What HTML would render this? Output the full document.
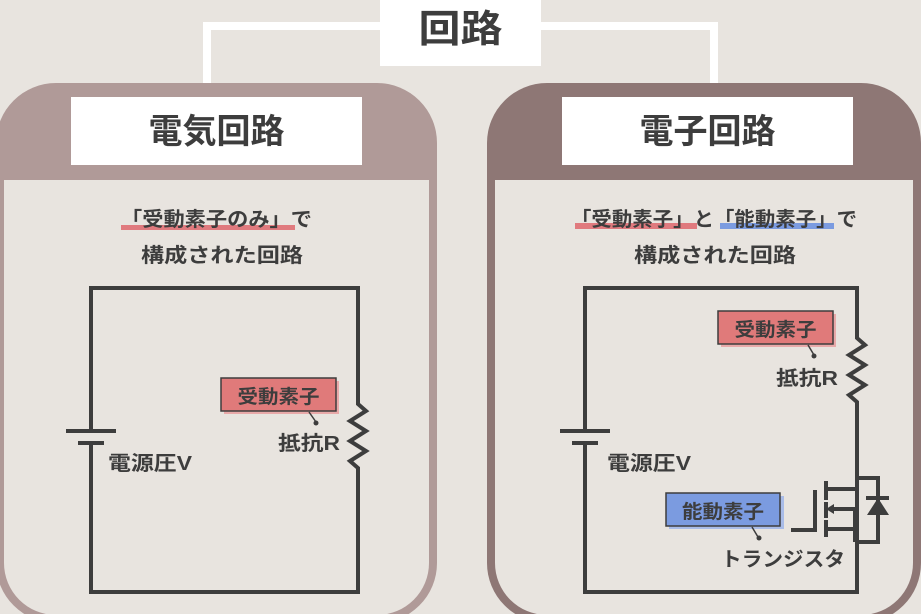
<!DOCTYPE html>
<html><head><meta charset="utf-8"><style>
html,body{margin:0;padding:0;background:#e8e4df;}
svg{display:block}
text{font-family:"Liberation Sans","Noto Sans CJK JP",sans-serif;font-weight:bold;fill:#3d3d3d}
</style></head><body>
<svg width="921" height="614" viewBox="0 0 921 614" xmlns="http://www.w3.org/2000/svg">
<rect width="921" height="614" fill="#e8e4df"/>
<!-- connectors -->
<path d="M207 84 V26 H400 M714 84 V26 H520" stroke="#fff" stroke-width="8" fill="none"/>
<rect x="380" y="0" width="161" height="66" fill="#fff"/>
<text x="460.5" y="42" font-size="38" text-anchor="middle" textLength="84" lengthAdjust="spacingAndGlyphs">回路</text>
<!-- left panel -->
<rect x="-4" y="83" width="441" height="540" rx="60" fill="#b09a98"/>
<rect x="4" y="180" width="425" height="435" rx="52" fill="#e8e4df"/>
<rect x="4" y="180" width="425" height="60" fill="#e8e4df"/>
<rect x="71" y="97" width="291" height="68" fill="#fff"/>
<text x="216.5" y="143" font-size="34" text-anchor="middle" textLength="136" lengthAdjust="spacingAndGlyphs">電気回路</text>
<!-- right panel -->
<rect x="487" y="83" width="434" height="540" rx="60" fill="#8e7775"/>
<rect x="495" y="180" width="418" height="435" rx="52" fill="#e8e4df"/>
<rect x="495" y="180" width="418" height="60" fill="#e8e4df"/>
<rect x="562" y="97" width="291" height="68" fill="#fff"/>
<text x="707.5" y="143" font-size="34" text-anchor="middle" textLength="136" lengthAdjust="spacingAndGlyphs">電子回路</text>

<!-- left subtitle -->
<rect x="121" y="225" width="174" height="5" fill="#e07a7e"/>
<text x="121" y="226" font-size="20" textLength="191" lengthAdjust="spacingAndGlyphs">「受動素子のみ」で</text>
<text x="141" y="262" font-size="20" textLength="162" lengthAdjust="spacingAndGlyphs">構成された回路</text>
<!-- right subtitle -->
<rect x="575" y="223" width="122" height="6" fill="#e07a7e"/>
<rect x="720" y="223" width="114" height="6" fill="#7b9be0"/>
<text x="571" y="226" font-size="20" textLength="286" lengthAdjust="spacingAndGlyphs">「受動素子」と「能動素子」で</text>
<text x="634" y="262" font-size="20" textLength="162" lengthAdjust="spacingAndGlyphs">構成された回路</text>

<g stroke="#3d3d3d" stroke-width="4" fill="none">
<path d="M91 431 V288 H358 V404 l8 7 -16 10 16 10 -16 10 16 10 -16 10 8 7 V592 H91 V443"/>
<path d="M66 431 H116 M78 443 H104"/>
<path d="M585 431 V288 H857 V338 l8 7 -16 10 16 10 -16 10 16 10 -16 10 8 7 V592 H585 V443"/>
<path d="M560 431 H610 M572 443 H598"/>
<path d="M857 478 H878 V542 H857"/>
<path d="M791 530 H815 V490"/>
<path d="M826 481 V500 M826 502 V518 M826 520 V537"/>
<path d="M826 489 H857 M830 509 H855 V542 M826 529 H855"/>
<path d="M866 498 H889"/>
</g>
<path d="M826 509 l8 -5 v10 z" fill="#3d3d3d"/>
<path d="M878 498 l-11 17 h22 z" fill="#3d3d3d"/>

<rect x="224" y="381" width="115" height="33" fill="#e8a9a9"/>
<rect x="221" y="378" width="115" height="33" fill="#e07a7a" stroke="#3d3d3d" stroke-width="1.5"/>
<text x="278.5" y="403" font-size="19" text-anchor="middle" textLength="82" lengthAdjust="spacingAndGlyphs">受動素子</text>
<path d="M309 412 L316 422" stroke="#3d3d3d" stroke-width="1.5"/>
<circle cx="316" cy="423" r="2.5" fill="#3d3d3d"/>
<text x="278" y="450" font-size="20" textLength="62" lengthAdjust="spacingAndGlyphs">抵抗R</text>
<text x="108" y="470" font-size="20" textLength="84" lengthAdjust="spacingAndGlyphs">電源圧V</text>

<rect x="721" y="314" width="115" height="33" fill="#e8a9a9"/>
<rect x="718" y="311" width="115" height="33" fill="#e07a7a" stroke="#3d3d3d" stroke-width="1.5"/>
<text x="775.5" y="336" font-size="19" text-anchor="middle" textLength="82" lengthAdjust="spacingAndGlyphs">受動素子</text>
<path d="M808 345 L814 355" stroke="#3d3d3d" stroke-width="1.5"/>
<circle cx="814" cy="356" r="2.5" fill="#3d3d3d"/>
<text x="776" y="385" font-size="20" textLength="62" lengthAdjust="spacingAndGlyphs">抵抗R</text>
<text x="607" y="470" font-size="20" textLength="84" lengthAdjust="spacingAndGlyphs">電源圧V</text>

<rect x="669" y="496" width="115" height="33" fill="#a9bce8"/>
<rect x="666" y="493" width="114" height="33" fill="#7b9be0" stroke="#3d3d3d" stroke-width="1.5"/>
<text x="723" y="518" font-size="19" text-anchor="middle" textLength="82" lengthAdjust="spacingAndGlyphs">能動素子</text>
<path d="M752 527 L758 537" stroke="#3d3d3d" stroke-width="1.5"/>
<circle cx="759" cy="538" r="2.5" fill="#3d3d3d"/>
<text x="721" y="566" font-size="20" textLength="124" lengthAdjust="spacingAndGlyphs">トランジスタ</text>
</svg>
</body></html>
